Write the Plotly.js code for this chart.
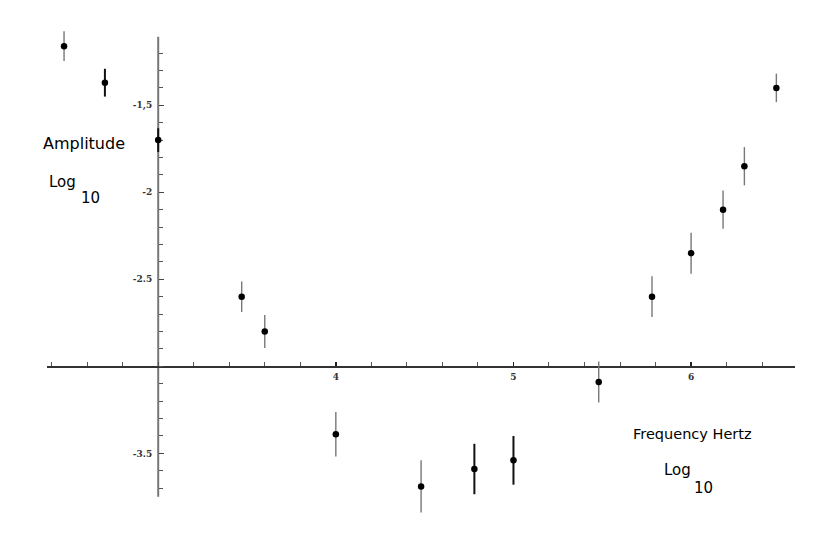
<!DOCTYPE html>
<html>
<head>
<meta charset="utf-8">
<script src="https://cdn.plot.ly/plotly-3.0.1.min.js"></script>
<style>html,body{margin:0;padding:0;background:#fff;}#chart{width:830px;height:546px;}</style>
</head>
<body>
<div id="chart"></div>
<script>
// Data
const freqLog = [2.47, 2.70, 3.00, 3.47, 3.60, 4.00, 4.48, 4.78, 5.00, 5.48, 5.78, 6.00, 6.18, 6.30, 6.48];
const ampLog  = [-1.16, -1.37, -1.70, -2.60, -2.80, -3.39, -3.69, -3.59, -3.54, -3.09, -2.60, -2.35, -2.10, -1.85, -1.40];
const ampErr  = [0.085, 0.08, 0.068, 0.088, 0.095, 0.128, 0.15, 0.145, 0.14, 0.118, 0.117, 0.118, 0.11, 0.11, 0.082];
const errDark = [false, true, true, false, false, false, false, true, true, false, false, false, false, false, false];
const yTickVals = [-1.5, -2, -2.5, -3.5];
const yTickText = ['-1,5', '-2', '-2.5', '-3.5'];
const yMinorVals = [-1.2, -1.3, -1.4, -1.6, -1.7, -1.8, -1.9, -2.1, -2.2, -2.3, -2.4, -2.6, -2.7, -2.8, -2.9, -3.0,
                    -3.1, -3.2, -3.3, -3.4, -3.6, -3.7];
const xTickVals = [4, 5, 6];
const xTickText = ['4', '5', '6'];

// axis extents (where the drawn axis lines stop)
const xAxisSpan = [2.374, 6.585];
const yAxisSpan = [-3.75, -1.106];
const crossX = 3, crossY = -3;

function pick(arr, dark) { return arr.filter((v, i) => errDark[i] === dark); }

function makeTrace(dark) {
  return {
    type: 'scatter', mode: 'markers',
    x: pick(freqLog, dark), y: pick(ampLog, dark),
    error_y: { type: 'data', array: pick(ampErr, dark), visible: true,
               color: dark ? '#111' : '#777', thickness: dark ? 2 : 1.4, width: 0 },
    marker: { color: '#000', size: 6.5 },
    cliponaxis: false, hoverinfo: 'skip', showlegend: false
  };
}

const L = 46.7, R = 795, T = 20, B = 520;
const yr = [-3.883, -1.0098];
const yAxisPos = (crossX - xAxisSpan[0]) / (xAxisSpan[1] - xAxisSpan[0]);
const xAxisPos = (crossY - yr[0]) / (yr[1] - yr[0]);

const tickFont = { family: 'DejaVu Serif', size: 9, color: '#333', weight: 'bold' };
const labelFont = { family: 'DejaVu Sans', size: 15, color: '#000' };
const px = v => (v - L) / (R - L);
const py = v => (B - v) / (B - T);

const layout = {
  width: 830, height: 546,
  margin: { l: L, r: 830 - R, t: T, b: 546 - B, pad: 0 },
  paper_bgcolor: '#fff', plot_bgcolor: '#fff',
  xaxis: {
    range: xAxisSpan, anchor: 'free', position: xAxisPos, layer: 'below traces',
    showgrid: false, zeroline: false,
    showline: true, linecolor: '#333', linewidth: 1.5,
    tickmode: 'array', tickvals: xTickVals, ticktext: xTickText,
    ticks: 'inside', ticklen: 4, tickwidth: 1.5, tickcolor: '#222',
    minor: { dtick: 0.2, tick0: 0, ticks: 'inside', ticklen: 4, tickwidth: 1, tickcolor: '#555', showgrid: false },
    tickfont: tickFont, ticklabelstandoff: 1
  },
  yaxis: {
    range: yr, anchor: 'free', position: yAxisPos, layer: 'below traces',
    showgrid: false, zeroline: false, showline: false,
    tickmode: 'array', tickvals: yTickVals, ticktext: yTickText,
    ticks: 'inside', ticklen: 5, tickwidth: 1.2, tickcolor: '#444',
    minor: { tickmode: 'array', tickvals: yMinorVals, ticks: 'inside', ticklen: 4, tickwidth: 1, tickcolor: '#555', showgrid: false },
    tickfont: tickFont, ticklabelstandoff: 6
  },
  shapes: [
    { type: 'line', xref: 'x', yref: 'y', x0: crossX, x1: crossX, y0: yAxisSpan[0], y1: yAxisSpan[1],
      line: { color: '#777', width: 2 }, layer: 'below' }
  ],
  annotations: [
    { xref: 'paper', yref: 'paper', x: px(41), y: py(143), xanchor: 'left', yanchor: 'middle',
      text: 'Amplitude', showarrow: false, font: Object.assign({}, labelFont, { size: 16 }) },
    { xref: 'paper', yref: 'paper', x: px(47), y: py(182), xanchor: 'left', yanchor: 'middle',
      text: 'Log', showarrow: false, font: labelFont },
    { xref: 'paper', yref: 'paper', x: px(79), y: py(198), xanchor: 'left', yanchor: 'middle',
      text: '10', showarrow: false, font: labelFont },
    { xref: 'paper', yref: 'paper', x: px(631), y: py(434), xanchor: 'left', yanchor: 'middle',
      text: 'Frequency Hertz', showarrow: false, font: Object.assign({}, labelFont, { size: 14.5 }) },
    { xref: 'paper', yref: 'paper', x: px(662), y: py(470), xanchor: 'left', yanchor: 'middle',
      text: 'Log', showarrow: false, font: labelFont },
    { xref: 'paper', yref: 'paper', x: px(692), y: py(488), xanchor: 'left', yanchor: 'middle',
      text: '10', showarrow: false, font: labelFont }
  ]
};

Plotly.newPlot('chart', [makeTrace(false), makeTrace(true)], layout, { displayModeBar: false, staticPlot: true });
</script>
</body>
</html>
